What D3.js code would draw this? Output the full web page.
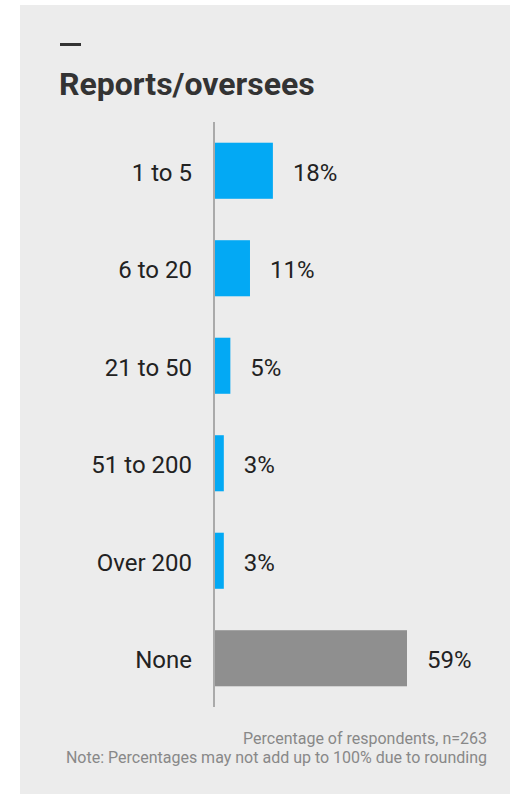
<!DOCTYPE html>
<html>
<head>
<meta charset="utf-8">
<script src="https://cdn.jsdelivr.net/npm/d3@7"></script>
<style>
  html, body { margin: 0; padding: 0; background: #ffffff; }
  svg { display: block; font-family: Roboto, "Noto Sans", sans-serif; }
</style>
</head>
<body>
<svg id="chart" width="512" height="794"></svg>
<script>
// Survey data: how many people each respondent reports to / oversees
const categories = ["1 to 5", "6 to 20", "21 to 50", "51 to 200", "Over 200", "None"];
const values = [18, 11, 5, 3, 3, 59];
const barColors = ["#03a9f4", "#03a9f4", "#03a9f4", "#03a9f4", "#03a9f4", "#8f8f8f"];
const title = "Reports/oversees";
const notes = ["Percentage of respondents, n=263",
               "Note: Percentages may not add up to 100% due to rounding"];

const svg = d3.select("#chart");

// Card background
svg.append("rect")
  .attr("x", 20).attr("y", 5)
  .attr("width", 490).attr("height", 789)
  .attr("fill", "#ececec");

// Title with accent dash
svg.append("rect")
  .attr("x", 60).attr("y", 43)
  .attr("width", 21).attr("height", 3)
  .attr("fill", "#333333");
svg.append("text")
  .attr("x", 59).attr("y", 95)
  .attr("font-size", 32).attr("font-weight", 700)
  .attr("fill", "#333333")
  .text(title);

const x0 = 214;
const x = d3.scaleLinear().domain([0, 59]).range([x0, x0 + 193]);
const y = d3.scaleBand().domain(categories).range([122, 707])
  .paddingInner(0.425).paddingOuter(0.2125);

// Bars
svg.append("g").selectAll("rect")
  .data(values)
  .join("rect")
  .attr("x", x(0))
  .attr("y", (d, i) => y(categories[i]))
  .attr("width", d => x(d) - x(0))
  .attr("height", y.bandwidth())
  .attr("fill", (d, i) => barColors[i]);

// Vertical baseline
svg.append("line")
  .attr("x1", x0).attr("x2", x0)
  .attr("y1", 122).attr("y2", 707)
  .attr("stroke", "#aaaaaa").attr("stroke-width", 2);

// Category labels
const yAxis = d3.axisLeft(y).tickSize(0).tickPadding(22);
const gy = svg.append("g").attr("transform", `translate(${x0},0)`).call(yAxis);
gy.select(".domain").remove();
gy.selectAll("text")
  .attr("dy", "0.42em")
  .attr("font-size", 24)
  .attr("font-family", "Roboto, 'Noto Sans', sans-serif")
  .attr("fill", "#222222");

// Value labels
svg.append("g").selectAll("text")
  .data(values)
  .join("text")
  .attr("x", d => x(d) + 20)
  .attr("y", (d, i) => y(categories[i]) + y.bandwidth() / 2)
  .attr("dy", "0.42em")
  .attr("font-size", 24)
  .attr("fill", "#222222")
  .text(d => d + "%");

// Footnotes
svg.append("g").selectAll("text")
  .data(notes)
  .join("text")
  .attr("x", 487)
  .attr("y", (d, i) => 744 + i * 19)
  .attr("text-anchor", "end")
  .attr("font-size", 16)
  .attr("fill", "#888888")
  .text(d => d);
</script>
</body>
</html>
